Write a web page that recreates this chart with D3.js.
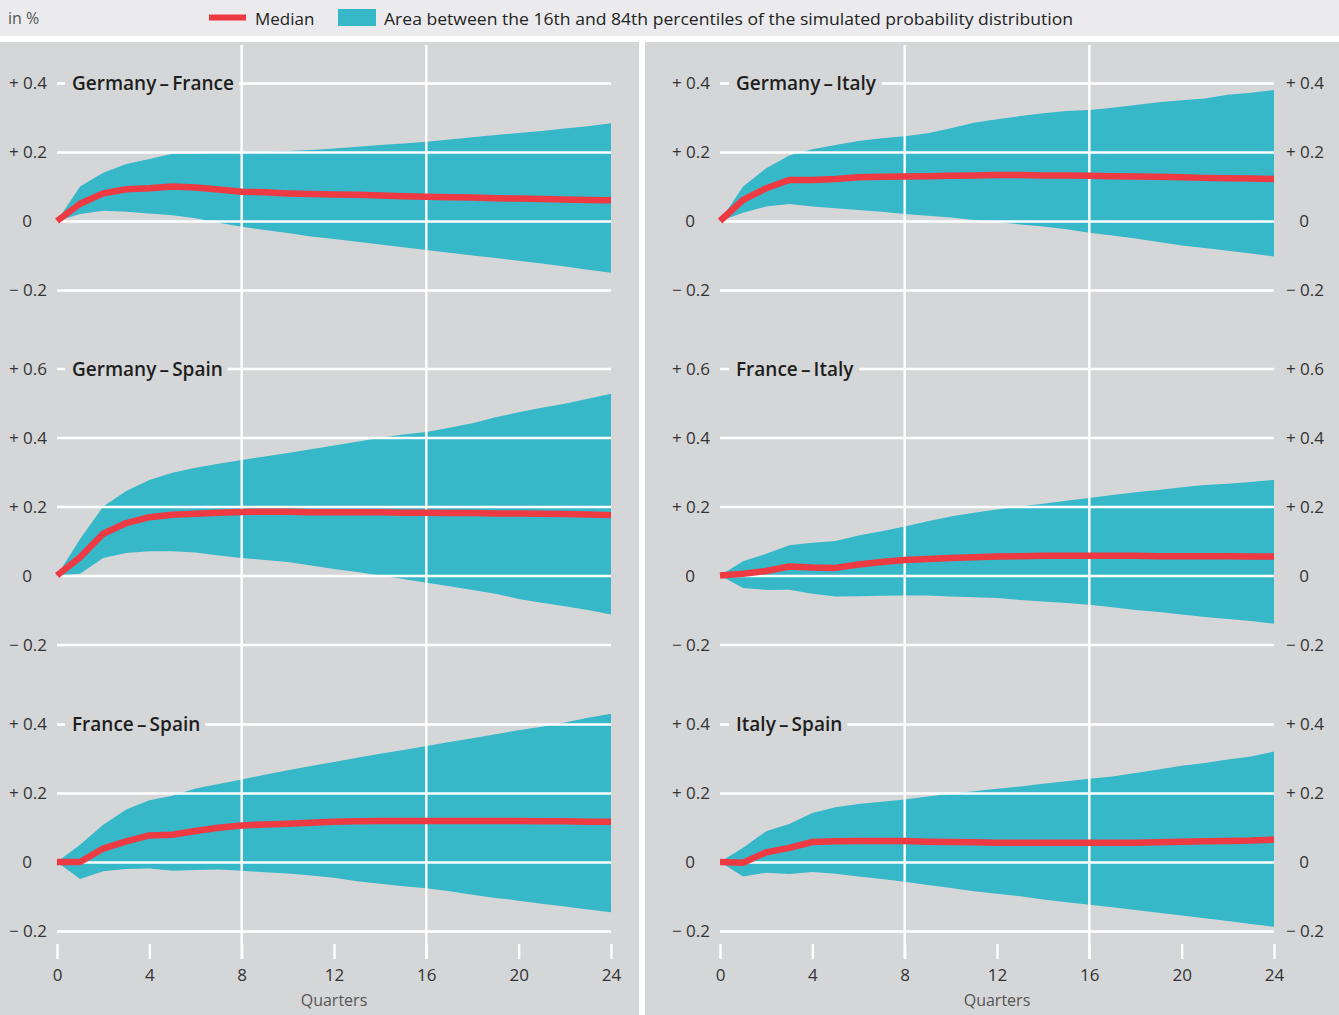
<!DOCTYPE html>
<html>
<head>
<meta charset="utf-8">
<script src="https://cdn.jsdelivr.net/npm/d3@7"></script>
<style>
  html, body { margin: 0; padding: 0; background: #ffffff; }
  svg { display: block; }
  text { font-family: "Open Sans", "Noto Sans", sans-serif; }
</style>
</head>
<body>
<svg id="chart" width="1339" height="1015"></svg>
<script>
// ---------------- DATA ----------------
const quarters = [0,1,2,3,4,5,6,7,8,9,10,11,12,13,14,15,16,17,18,19,20,21,22,23,24];
const xTickValues = [0,4,8,12,16,20,24];
const xGridValues = [8,16];

const pairTitles = ["Germany\u2009\u2013\u2009France","Germany\u2009\u2013\u2009Italy","Germany\u2009\u2013\u2009Spain","France\u2009\u2013\u2009Italy","France\u2009\u2013\u2009Spain","Italy\u2009\u2013\u2009Spain"];

const yTicksSmall = [-0.2, 0, 0.2, 0.4];
const yTicksLarge = [-0.2, 0, 0.2, 0.4, 0.6];

// Germany - France
const deFrMedian = [0,0.050,0.080,0.092,0.095,0.100,0.097,0.091,0.085,0.083,0.080,0.078,0.077,0.076,0.074,0.072,0.070,0.069,0.068,0.066,0.065,0.064,0.062,0.061,0.060];
const deFrLower  = [0,0.020,0.030,0.027,0.022,0.017,0.008,-0.005,-0.017,-0.026,-0.035,-0.045,-0.052,-0.060,-0.068,-0.076,-0.084,-0.092,-0.100,-0.107,-0.115,-0.123,-0.132,-0.141,-0.150];
const deFrUpper  = [0,0.100,0.140,0.165,0.180,0.195,0.196,0.198,0.200,0.201,0.203,0.206,0.210,0.215,0.220,0.225,0.230,0.236,0.243,0.249,0.255,0.261,0.268,0.275,0.283];

// Germany - Italy
const deItMedian = [0,0.061,0.095,0.119,0.119,0.122,0.127,0.128,0.129,0.130,0.131,0.132,0.133,0.133,0.132,0.132,0.131,0.130,0.129,0.128,0.127,0.125,0.124,0.123,0.122];
const deItLower  = [0,0.024,0.042,0.049,0.042,0.037,0.032,0.027,0.020,0.015,0.010,0.003,-0.002,-0.010,-0.016,-0.024,-0.034,-0.042,-0.051,-0.061,-0.071,-0.078,-0.086,-0.094,-0.103];
const deItUpper  = [0,0.100,0.153,0.190,0.208,0.220,0.232,0.240,0.246,0.254,0.269,0.285,0.295,0.304,0.312,0.319,0.322,0.328,0.336,0.344,0.350,0.355,0.366,0.372,0.380];

// Germany - Spain
const deEsMedian = [0,0.053,0.121,0.152,0.169,0.176,0.179,0.182,0.184,0.185,0.185,0.183,0.183,0.183,0.183,0.182,0.182,0.181,0.181,0.180,0.180,0.179,0.178,0.177,0.175];
const deEsLower  = [0,0.005,0.051,0.065,0.070,0.070,0.067,0.058,0.051,0.045,0.039,0.029,0.019,0.010,0.000,-0.010,-0.021,-0.031,-0.042,-0.053,-0.068,-0.079,-0.089,-0.100,-0.113];
const deEsUpper  = [0,0.106,0.200,0.245,0.277,0.298,0.312,0.324,0.335,0.345,0.355,0.366,0.377,0.388,0.399,0.409,0.416,0.428,0.441,0.459,0.473,0.486,0.498,0.512,0.527];

// France - Italy
const frItMedian = [0,0.005,0.013,0.026,0.023,0.022,0.032,0.039,0.045,0.048,0.051,0.053,0.055,0.056,0.057,0.057,0.057,0.057,0.057,0.056,0.056,0.056,0.056,0.055,0.055];
const frItLower  = [0,-0.036,-0.042,-0.041,-0.053,-0.061,-0.060,-0.059,-0.058,-0.058,-0.061,-0.063,-0.065,-0.071,-0.075,-0.080,-0.085,-0.092,-0.100,-0.106,-0.113,-0.120,-0.126,-0.132,-0.140];
const frItUpper  = [0,0.041,0.063,0.088,0.095,0.100,0.116,0.128,0.142,0.157,0.171,0.182,0.191,0.200,0.208,0.217,0.225,0.233,0.241,0.248,0.256,0.262,0.266,0.271,0.277];

// France - Spain
const frEsMedian = [0,0,0.039,0.060,0.077,0.079,0.090,0.099,0.106,0.109,0.111,0.114,0.117,0.118,0.119,0.119,0.119,0.119,0.119,0.119,0.119,0.118,0.118,0.117,0.117];
const frEsLower  = [0,-0.049,-0.027,-0.020,-0.019,-0.025,-0.023,-0.022,-0.025,-0.030,-0.033,-0.039,-0.046,-0.056,-0.063,-0.070,-0.076,-0.085,-0.095,-0.104,-0.112,-0.121,-0.129,-0.138,-0.146];
const frEsUpper  = [0,0.050,0.108,0.152,0.179,0.192,0.213,0.226,0.239,0.253,0.266,0.278,0.290,0.302,0.314,0.325,0.336,0.348,0.359,0.370,0.382,0.392,0.404,0.418,0.430];

// Italy - Spain
const itEsMedian = [0,-0.002,0.028,0.041,0.058,0.060,0.061,0.061,0.061,0.059,0.058,0.057,0.056,0.056,0.056,0.056,0.056,0.056,0.056,0.057,0.059,0.060,0.061,0.062,0.065];
const itEsLower  = [0,-0.042,-0.031,-0.035,-0.029,-0.034,-0.042,-0.049,-0.057,-0.067,-0.075,-0.085,-0.092,-0.099,-0.109,-0.117,-0.124,-0.131,-0.139,-0.147,-0.155,-0.163,-0.171,-0.180,-0.188];
const itEsUpper  = [0,0.041,0.089,0.110,0.142,0.159,0.168,0.175,0.181,0.190,0.198,0.205,0.212,0.219,0.227,0.234,0.241,0.248,0.258,0.268,0.279,0.287,0.297,0.306,0.320];

const legendLabels = ["Median", "Area between the 16th and 84th percentiles of the simulated probability distribution"];
const unitLabel = "in %";
const xAxisTitle = "Quarters";

// ---------------- LAYOUT ----------------
const C = {
  bandFill: "#37b8c8",
  median: "#ee3a43",
  panel: "#d5d6d8",
  legendBg: "#ebebed",
  grid: "#ffffff",
  text: "#333333",
  title: "#1e1e1e"
};

const svg = d3.select("#chart");

// backgrounds
svg.append("rect").attr("x",0).attr("y",0).attr("width",1339).attr("height",1015).attr("fill","#ffffff");
svg.append("rect").attr("x",0).attr("y",0).attr("width",1339).attr("height",36).attr("fill",C.legendBg);
svg.append("rect").attr("x",0).attr("y",42).attr("width",639).attr("height",973).attr("fill",C.panel);
svg.append("rect").attr("x",645).attr("y",42).attr("width",694).attr("height",973).attr("fill",C.panel);

// legend
svg.append("text").attr("x",8).attr("y",18).attr("dominant-baseline","central")
  .attr("font-size",16).attr("fill","#555").text(unitLabel);
svg.append("line").attr("x1",209).attr("x2",246).attr("y1",17.5).attr("y2",17.5)
  .attr("stroke",C.median).attr("stroke-width",6);
svg.append("text").attr("x",255).attr("y",18).attr("dominant-baseline","central")
  .attr("font-size",17).attr("fill","#222").text(legendLabels[0]);
svg.append("rect").attr("x",338).attr("y",9).attr("width",38).attr("height",17).attr("fill",C.bandFill);
svg.append("text").attr("x",384).attr("y",18).attr("dominant-baseline","central")
  .attr("font-size",17).attr("fill","#222")
  .attr("textLength", 689).attr("lengthAdjust", "spacingAndGlyphs")
  .text(legendLabels[1]);

const columns = [
  { range: [57, 611], leftLabelX: 47, rightLabelX: null, titleX: 72 },
  { range: [720, 1274], leftLabelX: 710, rightLabelX: 1324, titleX: 736 }
];
const rows = [
  { domain: [-0.2, 0.4], range: [290, 83], ticks: yTicksSmall, top: 0.4 },
  { domain: [-0.2, 0.6], range: [644.5, 368.5], ticks: yTicksLarge, top: 0.6 },
  { domain: [-0.2, 0.4], range: [931, 724], ticks: yTicksSmall, top: 0.4 }
];

const panels = [
  { col: 0, row: 0, title: pairTitles[0], med: deFrMedian, lo: deFrLower, hi: deFrUpper },
  { col: 1, row: 0, title: pairTitles[1], med: deItMedian, lo: deItLower, hi: deItUpper },
  { col: 0, row: 1, title: pairTitles[2], med: deEsMedian, lo: deEsLower, hi: deEsUpper },
  { col: 1, row: 1, title: pairTitles[3], med: frItMedian, lo: frItLower, hi: frItUpper },
  { col: 0, row: 2, title: pairTitles[4], med: frEsMedian, lo: frEsLower, hi: frEsUpper },
  { col: 1, row: 2, title: pairTitles[5], med: itEsMedian, lo: itEsLower, hi: itEsUpper }
];

const fmtLabel = v => v > 0 ? "+ " + d3.format(".1f")(v) : v < 0 ? "\u2212 " + d3.format(".1f")(-v) : "0";

const layerBand = svg.append("g");
const layerGrid = svg.append("g");
const layerVGrid = svg.append("g");
const layerTitle = svg.append("g");
const layerMedian = svg.append("g");
const layerLabels = svg.append("g");

panels.forEach(p => {
  const col = columns[p.col], row = rows[p.row];
  const x = d3.scaleLinear().domain([0, 24]).range(col.range);
  const y = d3.scaleLinear().domain(row.domain).range(row.range);

  const area = d3.area().x((d,i) => x(quarters[i])).y0((d,i) => y(p.lo[i])).y1((d,i) => y(p.hi[i]));
  layerBand.append("path").datum(quarters).attr("d", area).attr("fill", C.bandFill);

  // horizontal gridlines via axis
  const gridAxis = d3.axisLeft(y).tickValues(row.ticks).tickSize(-(col.range[1]-col.range[0])).tickFormat("");
  const gg = layerGrid.append("g").attr("transform", `translate(${col.range[0]},0)`).call(gridAxis);
  gg.select(".domain").remove();
  gg.selectAll(".tick line").attr("stroke", C.grid).attr("stroke-width", 2.6);

  const drawLabels = (lx, side) => {
    const ax = (side === "left" ? d3.axisLeft(y) : d3.axisRight(y)).tickValues(row.ticks).tickSize(0).tickPadding(0).tickFormat(fmtLabel);
    const lg = layerLabels.append("g").attr("transform", `translate(${lx},0)`).call(ax);
    lg.select(".domain").remove();
    lg.selectAll(".tick text")
      .attr("font-family", '"Open Sans", sans-serif')
      .attr("font-size", 17).attr("fill", C.text)
      .attr("dy", "0.35em")
      .attr("text-anchor", "end")
      .attr("x", d => d === 0 ? -15 : 0);
  };
  drawLabels(col.leftLabelX, "left");
  if (col.rightLabelX !== null) drawLabels(col.rightLabelX, "right");

  // title with background
  const t = layerTitle.append("text").attr("x", col.titleX).attr("y", y(row.top))
    .attr("dominant-baseline", "central").attr("font-size", 19).attr("font-weight", 600)
    .attr("fill", C.title).text(p.title);
  const bb = t.node().getBBox();
  layerTitle.insert("rect", "text").attr("x", col.titleX - 7).attr("y", y(row.top) - 14)
    .attr("width", bb.width + 12).attr("height", 28).attr("fill", C.panel);

  // median line
  const line = d3.line().x((d,i) => x(quarters[i])).y((d,i) => y(p.med[i]));
  layerMedian.append("path").datum(quarters).attr("d", line).attr("fill", "none")
    .attr("stroke", C.median).attr("stroke-width", 6.5).attr("stroke-linejoin", "round");
});

// vertical gridlines and x axis per column
columns.forEach(col => {
  const x = d3.scaleLinear().domain([0, 24]).range(col.range);
  xGridValues.forEach(v => {
    layerVGrid.append("line").attr("x1", x(v)).attr("x2", x(v)).attr("y1", 45).attr("y2", 959)
      .attr("stroke", C.grid).attr("stroke-width", 2.4);
  });
  const xa = d3.axisBottom(x).tickValues(xTickValues).tickSize(15).tickPadding(2);
  const xg = layerLabels.append("g").attr("transform", "translate(0,944)").call(xa);
  xg.select(".domain").remove();
  xg.selectAll(".tick line").attr("stroke", C.grid).attr("stroke-width", 2.4);
  xg.selectAll(".tick text").attr("font-family", '"Open Sans", sans-serif').attr("font-size", 17)
    .attr("fill", C.text).attr("y", 31).attr("dy", "0.35em");
  layerLabels.append("text").attr("x", (col.range[0] + col.range[1]) / 2).attr("y", 1000)
    .attr("text-anchor", "middle").attr("dominant-baseline", "central")
    .attr("font-size", 16).attr("fill", "#555").text(xAxisTitle);
});
</script>
</body>
</html>
